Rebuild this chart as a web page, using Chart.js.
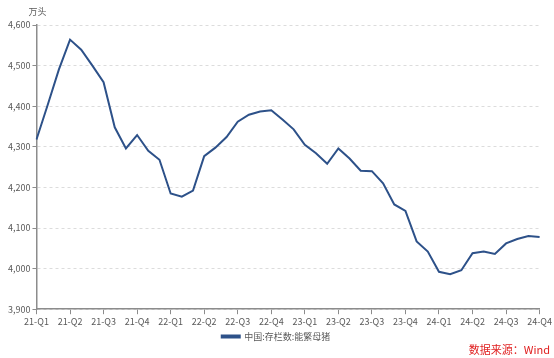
<!DOCTYPE html>
<html>
<head>
<meta charset="utf-8">
<script src="https://cdn.jsdelivr.net/npm/chart.js@4/dist/chart.umd.min.js"></script>
<style>
  html, body { margin: 0; padding: 0; background: #fff; }
  #wrap { width: 554px; height: 358px; position: relative; }
</style>
</head>
<body>
<div id="wrap"><canvas id="myChart"></canvas></div>
<script>
// quarter tick labels (one every 3 months, Mar 2021 .. Dec 2024)
const quarter_labels = ["21-Q1", "21-Q2", "21-Q3", "21-Q4", "22-Q1", "22-Q2", "22-Q3", "22-Q4",
  "23-Q1", "23-Q2", "23-Q3", "23-Q4", "24-Q1", "24-Q2", "24-Q3", "24-Q4"];

// 中国:存栏数:能繁母猪, 万头, monthly
const sows = [
  4318, 4403, 4490, 4564, 4539, 4500, 4459, 4348, 4296, 4329,
  4290, 4268, 4185, 4177, 4192, 4277, 4298, 4324, 4362, 4379,
  4387, 4390, 4367, 4343, 4305, 4284, 4258, 4296, 4271, 4241,
  4240, 4210, 4158, 4142, 4067, 4042, 3992, 3986, 3996, 4038,
  4042, 4036, 4062, 4073, 4080, 4078
];

const series_name = "中国:存栏数:能繁母猪";
const y_ticks = { min: 3900, max: 4600, step: 100 };

let month_labels = [];
for (let i = 0; i < sows.length; i++) {
  month_labels.push(i % 3 === 0 ? quarter_labels[i / 3] : "");
}

const FONT = "'Noto Sans CJK SC', 'Noto Sans', sans-serif";

// unit label above the y axis + source note bottom right
const extraText = {
  id: "extraText",
  afterDraw(chart) {
    const ctx = chart.ctx;
    ctx.save();
    ctx.font = "9px " + FONT;
    ctx.fillStyle = "#595959";
    ctx.textAlign = "left";
    ctx.textBaseline = "middle";
    ctx.fillText("万头", chart.chartArea.left - 8, 12);
    ctx.font = "11px " + FONT;
    ctx.fillStyle = "#e02020";
    ctx.textAlign = "right";
    ctx.fillText("数据来源：Wind", 550, 350);
    ctx.restore();
  }
};

new Chart(document.getElementById("myChart").getContext("2d"), {
  type: "line",
  data: {
    labels: month_labels,
    datasets: [{
      label: series_name,
      data: sows,
      borderColor: "#2d5189",
      backgroundColor: "#2d5189",
      borderWidth: 2,
      pointRadius: 0,
      tension: 0,
      fill: false
    }]
  },
  options: {
    responsive: true,
    maintainAspectRatio: false,
    animation: false,
    layout: { padding: { top: 25, right: 8, left: 6, bottom: 7 } },
    plugins: {
      legend: {
        position: "bottom",
        labels: {
          boxWidth: 18,
          boxHeight: 2,
          color: "#595959",
          font: { family: FONT, size: 9 },
          padding: 3
        }
      },
      title: { display: false },
      tooltip: { enabled: false }
    },
    scales: {
      x: {
        offset: false,
        grid: {
          display: true,
          drawOnChartArea: false,
          drawTicks: true,
          tickLength: 5,
          tickColor: "#8c8c8c"
        },
        border: { display: true, color: "#8c8c8c", width: 1.5 },
        ticks: {
          autoSkip: false,
          maxRotation: 0,
          color: "#595959",
          font: { family: FONT, size: 9 },
          padding: 2,
          callback: function (value, index) {
            const lab = this.getLabelForValue(value);
            return lab === "" ? null : lab;
          }
        }
      },
      y: {
        min: y_ticks.min,
        max: y_ticks.max,
        grid: {
          color: "#dcdcdc",
          tickColor: "#8c8c8c",
          tickLength: 4,
          tickBorderDash: []
        },
        border: { display: true, color: "#8c8c8c", width: 1.5, dash: [3, 3] },
        ticks: {
          stepSize: y_ticks.step,
          color: "#595959",
          font: { family: FONT, size: 9 },
          padding: 2,
          callback: (v) => v.toLocaleString("en")
        }
      }
    }
  },
  plugins: [extraText]
});
</script>
</body>
</html>
